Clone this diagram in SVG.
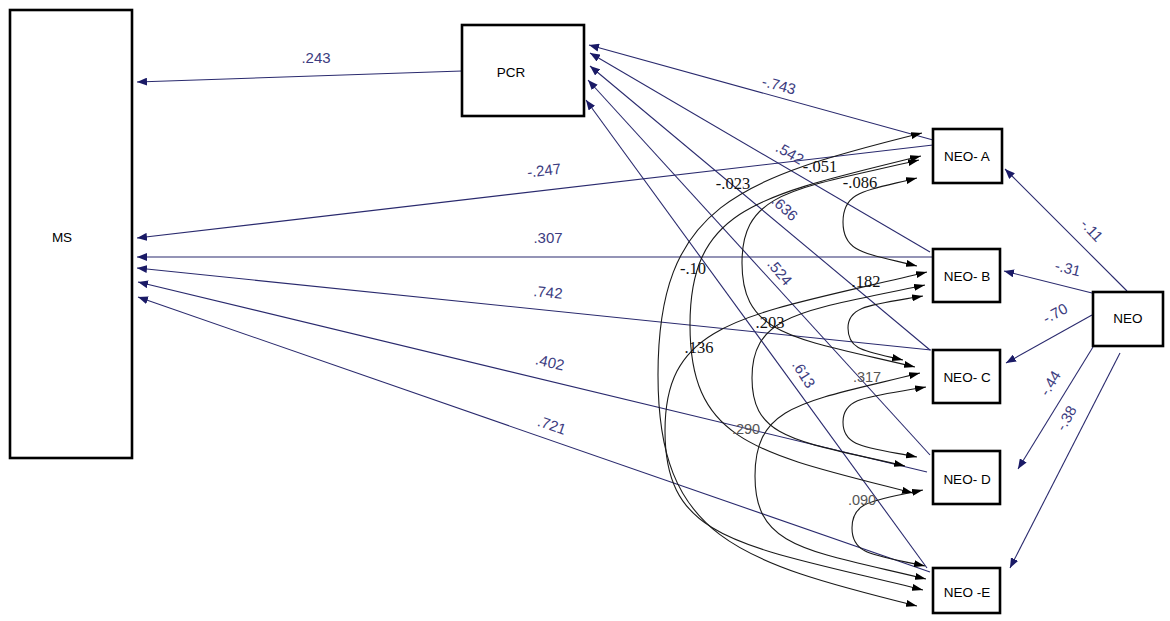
<svg xmlns="http://www.w3.org/2000/svg" width="1170" height="621" viewBox="0 0 1170 621">
<defs>
<style>
.box{fill:#fff;stroke:#000;stroke-width:2.6}
.nl{font-family:"Liberation Sans",Arial,sans-serif;font-size:13.5px;fill:#000;text-anchor:middle;dominant-baseline:central}
.path{fill:none;stroke:#2a2a6e;stroke-width:1.1;marker-end:url(#na)}
.cov{fill:none;stroke:#1a1a1a;stroke-width:1.1;marker-start:url(#ba);marker-end:url(#ba)}
.pl{font-family:"Liberation Sans",Arial,sans-serif;font-size:15px;fill:#3c3c80;text-anchor:middle;dominant-baseline:central}
.cl{font-family:"Liberation Serif","Times New Roman",serif;font-size:16.5px;fill:#111;text-anchor:middle;dominant-baseline:central}
.cg{font-family:"Liberation Sans",Arial,sans-serif;font-size:14.5px;fill:#555;text-anchor:middle;dominant-baseline:central}
</style>
<marker id="na" viewBox="0 0 10 8" refX="10" refY="4" markerWidth="10" markerHeight="8" markerUnits="userSpaceOnUse" orient="auto"><path d="M0,0 L10,4 L0,8 z" fill="#1a1a66"/></marker>
<marker id="ba" viewBox="0 0 11 7" refX="11" refY="3.5" markerWidth="11" markerHeight="7" markerUnits="userSpaceOnUse" orient="auto-start-reverse"><path d="M0,0 L11,3.5 L0,7 z" fill="#000"/></marker>
</defs>
<rect width="1170" height="621" fill="#fff"/>
<g id="connectors">
<line class="path" x1="462" y1="71" x2="137" y2="82"/>
<line class="path" x1="933" y1="145" x2="137" y2="238"/>
<line class="path" x1="933" y1="257" x2="137" y2="257"/>
<line class="path" x1="931" y1="350" x2="137" y2="268"/>
<line class="path" x1="927" y1="472" x2="138" y2="282"/>
<line class="path" x1="930" y1="572" x2="138" y2="297"/>
<line class="path" x1="933" y1="140" x2="589" y2="45"/>
<line class="path" x1="930" y1="252" x2="590" y2="53"/>
<line class="path" x1="930" y1="350" x2="590" y2="66"/>
<line class="path" x1="930" y1="455" x2="588" y2="80"/>
<line class="path" x1="927" y1="568" x2="586" y2="100"/>
<line class="path" x1="1127" y1="291" x2="1005" y2="169"/>
<line class="path" x1="1092" y1="293" x2="1004" y2="271"/>
<line class="path" x1="1092" y1="315" x2="1006" y2="363"/>
<line class="path" x1="1093" y1="347" x2="1018" y2="469"/>
<line class="path" x1="1120" y1="353" x2="1010" y2="568"/>
<path class="cov" d="M917,178 C865,191 843,191 843,222 C843,253 865,253 917,266"/>
<path class="cov" d="M923,296 C870,305 848,306 848,328 C848,350 864,351 903,360"/>
<path class="cov" d="M926,387 C868,397 843,397 843,422 C843,447 865,447 917,457"/>
<path class="cov" d="M923,490 C873,501 852,501 852,528 C852,555 874,555 925,566"/>
<path class="cov" d="M919,160 C795,189 742,191 742,263 C742,336 794,338 915,367"/>
<path class="cov" d="M925,285 C804,311 752,313 752,378 C752,440 798,441 905,466"/>
<path class="cov" d="M920,373 C804,402 755,404 755,476 C755,548 806,550 926,579"/>
<path class="cov" d="M921,156 C759,196 690,207 690,325 C690,443 757,453 913,493"/>
<path class="cov" d="M927,272 C744,316 665,320 665,431 C665,542 742,545 923,590"/>
<path class="cov" d="M922,133 C737,179 658,206 658,375 C658,537 736,561 917,606"/>
<text class="pl" x="316" y="57">.243</text>
<text class="pl" x="544" y="170" transform="rotate(-6.7 544 170)">-.247</text>
<text class="pl" x="548" y="237">.307</text>
<text class="pl" x="548" y="292" transform="rotate(6 548 292)">.742</text>
<text class="pl" x="550" y="362" transform="rotate(13 550 362)">.402</text>
<text class="pl" x="552" y="425" transform="rotate(19 552 425)">.721</text>
<text class="pl" x="779" y="85" transform="rotate(15 779 85)">-.743</text>
<text class="pl" x="790" y="153" transform="rotate(30 790 153)">.542</text>
<text class="pl" x="785" y="208" transform="rotate(43 785 208)">.636</text>
<text class="pl" x="780" y="272" transform="rotate(50 780 272)">.524</text>
<text class="pl" x="804" y="374" transform="rotate(58 804 374)">.613</text>
<text class="pl" x="1092" y="230" transform="rotate(47 1092 230)">-.11</text>
<text class="pl" x="1068" y="268" transform="rotate(14 1068 268)">-.31</text>
<text class="pl" x="1055" y="313" transform="rotate(-28 1055 313)">-.70</text>
<text class="pl" x="1050" y="383" transform="rotate(-58 1050 383)">-.44</text>
<text class="pl" x="1066" y="418" transform="rotate(-60 1066 418)">-.38</text>
<text class="cl" x="820" y="166">-.051</text>
<text class="cl" x="860" y="182">-.086</text>
<text class="cl" x="733" y="183">-.023</text>
<text class="cl" x="693" y="268">-.10</text>
<text class="cl" x="699" y="347">.136</text>
<text class="cl" x="866" y="281">.182</text>
<text class="cl" x="770" y="322">.203</text>
<text class="cg" x="867" y="377">.317</text>
<text class="cg" x="746" y="429">.290</text>
<text class="cg" x="862" y="500">.090</text>
</g>
<g id="MS"><rect class="box" x="10" y="10" width="122" height="448"/><text class="nl" x="62" y="237">MS</text></g>
<g id="PCR"><rect class="box" x="462" y="25" width="122" height="91"/><text class="nl" x="511" y="72">PCR</text></g>
<g id="NEO-A"><rect class="box" x="933" y="129" width="69" height="54"/><text class="nl" x="967" y="156">NEO- A</text></g>
<g id="NEO-B"><rect class="box" x="933" y="249" width="67" height="53"/><text class="nl" x="967" y="276">NEO- B</text></g>
<g id="NEO-C"><rect class="box" x="933" y="350" width="67" height="53"/><text class="nl" x="967" y="377">NEO- C</text></g>
<g id="NEO-D"><rect class="box" x="933" y="451" width="67" height="53"/><text class="nl" x="967" y="479">NEO- D</text></g>
<g id="NEO-E"><rect class="box" x="933" y="568" width="67" height="45"/><text class="nl" x="967" y="592">NEO -E</text></g>
<g id="NEO"><rect class="box" x="1093" y="292" width="70" height="54"/><text class="nl" x="1128" y="318">NEO</text></g>
</svg>
